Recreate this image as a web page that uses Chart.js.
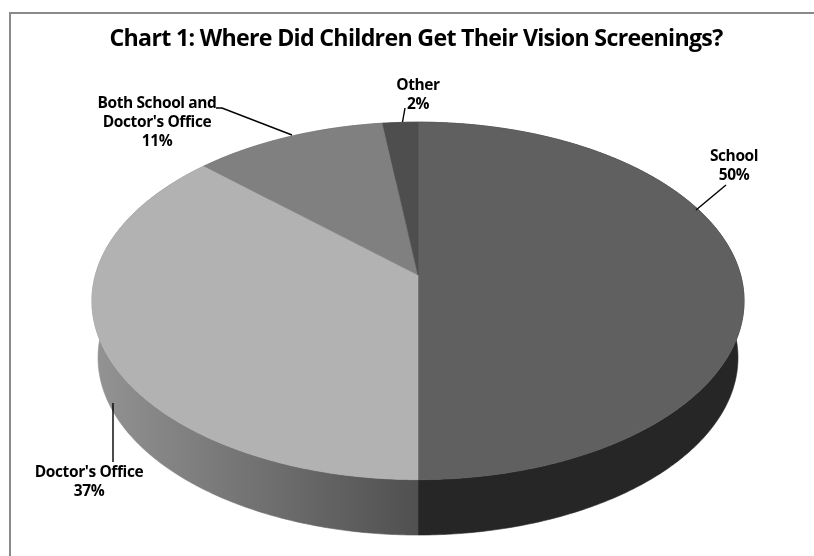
<!DOCTYPE html>
<html>
<head>
<meta charset="utf-8">
<style>
  html, body { margin: 0; padding: 0; background: #fff; }
  canvas { display: block; }
</style>
<script src="https://cdn.jsdelivr.net/npm/chart.js@4"></script>
</head>
<body>
<canvas id="chart" width="814" height="556"></canvas>
<script>
const titleText = "Chart 1: Where Did Children Get Their Vision Screenings?";
const categories = ["School", "Doctor's Office", "Both School and Doctor's Office", "Other"];
const shares = [50, 37, 11, 2];
const topColors = ["#606060", "#b2b2b2", "#808080", "#4e4e4e"];

const LABEL_FONT = "700 15.5px 'Open Sans'";
const LABEL_SPACING = "-0.4px";

// Perspective view of the disc: the near edge is drawn larger than the far edge.
const topPlane = { cx: 418, cy: 275, ax: 322.6, by: 175, p: 0.145 };
const basePlane = { cx: 418, cy: 332, ax: 316.6, by: 173.6, p: 0.145 };

function project(plane, angle) {
  const u = Math.cos(angle), v = Math.sin(angle);
  const d = 1 - plane.p * v;
  return { x: plane.cx + plane.ax * u / d, y: plane.cy + plane.by * v / d };
}

function traceRim(ctx, plane, from, to, started) {
  const steps = Math.max(2, Math.ceil(Math.abs(to - from) / 0.01));
  for (let i = 0; i <= steps; i++) {
    const pt = project(plane, from + (to - from) * i / steps);
    if (i === 0 && !started) ctx.moveTo(pt.x, pt.y); else ctx.lineTo(pt.x, pt.y);
  }
}

// Label placement and leader lines, one entry per category.
const callouts = [
  { x: 734, y: 156.5, lines: [categories[0]], leader: [[696, 210], [726, 185]] },
  { x: 89, y: 472.5, lines: [categories[1]], leader: [[113, 403], [113, 462]] },
  { x: 157, y: 104, lines: ["Both School and", "Doctor's Office"], leader: [[216, 108], [222, 108], [292, 135]] },
  { x: 418, y: 86, lines: [categories[3]], leader: [[405, 108], [402.5, 122]] }
];

const perspectivePie = {
  id: "perspectivePie",
  beforeDatasetDraw(chart, args) {
    const ctx = chart.ctx;
    const arcs = chart.getDatasetMeta(args.index).data;
    ctx.save();

    // Outer wall first, so the top faces cover its hidden part.
    const wall = ctx.createLinearGradient(100, 0, 418, 0);
    wall.addColorStop(0, "#929292");
    wall.addColorStop(1, "#505050");
    arcs.forEach((arc, i) => {
      const props = arc.getProps(["startAngle", "endAngle"], true);
      ctx.beginPath();
      traceRim(ctx, basePlane, props.startAngle, props.endAngle, false);
      traceRim(ctx, topPlane, props.endAngle, props.startAngle, true);
      ctx.closePath();
      ctx.fillStyle = i === 0 ? "#262626" : wall;
      ctx.fill();
      ctx.strokeStyle = ctx.fillStyle;
      ctx.lineWidth = 0.6;
      ctx.stroke();
    });

    // Top faces.
    arcs.forEach((arc) => {
      const props = arc.getProps(["startAngle", "endAngle"], true);
      ctx.beginPath();
      ctx.moveTo(topPlane.cx, topPlane.cy);
      traceRim(ctx, topPlane, props.startAngle, props.endAngle, true);
      ctx.closePath();
      ctx.fillStyle = arc.options.backgroundColor;
      ctx.fill();
      ctx.strokeStyle = arc.options.backgroundColor;
      ctx.lineWidth = 0.6;
      ctx.stroke();
    });

    ctx.restore();
    return false;
  },
  afterDraw(chart) {
    const ctx = chart.ctx;
    ctx.save();
    ctx.strokeStyle = "#000";
    ctx.lineWidth = 1.4;
    callouts.forEach((c) => {
      ctx.beginPath();
      c.leader.forEach((pt, i) => i ? ctx.lineTo(pt[0], pt[1]) : ctx.moveTo(pt[0], pt[1]));
      ctx.stroke();
    });
    ctx.fillStyle = "#000";
    ctx.font = LABEL_FONT;
    ctx.letterSpacing = LABEL_SPACING;
    ctx.textAlign = "center";
    ctx.textBaseline = "middle";
    callouts.forEach((c, i) => {
      const rows = c.lines.concat(shares[i] + "%");
      rows.forEach((row, r) => ctx.fillText(row, c.x, c.y + r * 19));
    });
    ctx.restore();
  },
  beforeDraw(chart) {
    const ctx = chart.ctx;
    ctx.save();
    ctx.fillStyle = "#fff";
    ctx.fillRect(0, 0, chart.width, chart.height);
    ctx.fillStyle = "#8a8a8a";
    ctx.fillRect(9, 12, chart.width - 9, 2);
    ctx.fillRect(9, 12, 2, chart.height - 12);
    ctx.restore();
    ctx.letterSpacing = "-0.7px";
  }
};

new Chart(document.getElementById("chart"), {
  type: "pie",
  data: {
    labels: categories,
    datasets: [{ data: shares, backgroundColor: topColors, borderWidth: 0 }]
  },
  options: {
    responsive: false,
    animation: false,
    layout: { padding: { top: 25, left: 18 } },
    plugins: {
      legend: { display: false },
      tooltip: { enabled: false },
      title: {
        display: true,
        text: titleText,
        color: "#000",
        padding: 0,
        font: { family: "'Open Sans'", size: 23.2, weight: "700" }
      }
    }
  },
  plugins: [perspectivePie]
});
</script>
</body>
</html>
